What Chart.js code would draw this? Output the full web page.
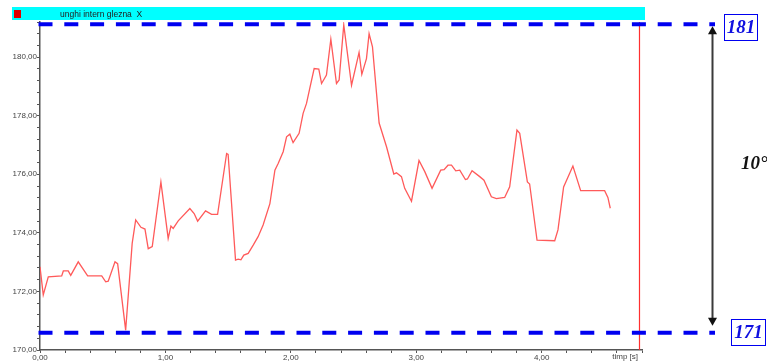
<!DOCTYPE html>
<html>
<head>
<meta charset="utf-8">
<script src="https://cdn.jsdelivr.net/npm/chart.js@4"></script>
<style>
  html,body{margin:0;padding:0;background:#fff;}
  #wrap{width:767px;height:362px;position:relative;}
</style>
</head>
<body>
<div id="wrap"><canvas id="c" width="767" height="362"></canvas></div>
<script>
// ---- data ----
const timeS = [0.000,0.026,0.066,0.173,0.186,0.225,0.245,0.305,0.380,0.492,0.524,0.544,0.598,0.619,0.683,0.735,0.763,0.805,0.837,0.863,0.895,0.964,1.022,1.044,1.062,1.102,1.195,1.229,1.257,1.320,1.368,1.416,1.488,1.500,1.559,1.580,1.602,1.625,1.660,1.700,1.739,1.779,1.833,1.873,1.899,1.939,1.966,1.992,2.018,2.066,2.098,2.125,2.151,2.186,2.223,2.245,2.284,2.319,2.364,2.385,2.422,2.484,2.544,2.566,2.603,2.624,2.651,2.704,2.763,2.821,2.842,2.882,2.908,2.962,3.022,3.068,3.126,3.195,3.222,3.253,3.281,3.315,3.347,3.392,3.408,3.445,3.506,3.540,3.599,3.639,3.705,3.745,3.803,3.825,3.886,3.904,3.963,4.104,4.130,4.175,4.249,4.311,4.502,4.528,4.547];
const angleDeg = [172.84,171.88,172.50,172.53,172.70,172.70,172.55,173.01,172.53,172.53,172.33,172.35,173.01,172.95,170.68,173.64,174.44,174.19,174.13,173.46,173.53,175.74,173.81,174.23,174.15,174.41,174.83,174.66,174.40,174.75,174.63,174.63,176.71,176.68,173.07,173.10,173.08,173.24,173.30,173.58,173.87,174.27,175.00,176.14,176.37,176.77,177.28,177.37,177.08,177.40,178.08,178.42,178.93,179.61,179.59,179.10,179.39,180.61,179.10,179.22,181.10,179.04,180.16,179.41,179.95,180.80,180.35,177.75,176.94,176.01,176.05,175.92,175.52,175.08,176.47,176.09,175.52,176.14,176.16,176.31,176.31,176.12,176.14,175.82,175.84,176.12,175.92,175.80,175.23,175.17,175.21,175.57,177.51,177.40,175.74,175.67,173.75,173.73,174.10,175.57,176.28,175.44,175.44,175.21,174.84];
const seriesName = 'unghi intern glezna  X';
const xAxisLabel = 'timp [s]';
const xRange = [0, 4.8];
const yRange = [170, 181.2];
const cursorTime = 4.78;
const refLines = [{value:181.12, label:'181'}, {value:170.59, label:'171'}];
const spanLabel = '10°';

const fmt = v => v.toFixed(2).replace('.', ',');
const isMult = (v, m) => Math.abs(v/m - Math.round(v/m)) < 1e-6;

const overlay = {
  id: 'overlay',
  afterDraw(chart) {
    const ctx = chart.ctx;
    const xs = chart.scales.x, ys = chart.scales.y;
    ctx.save();
    // title bar
    ctx.fillStyle = '#00ffff';
    ctx.fillRect(12, 7, 633, 13);
    ctx.fillStyle = '#e00000';
    ctx.fillRect(14, 10, 7, 8);
    ctx.fillStyle = '#222';
    ctx.font = '8.5px "Liberation Sans", Arial, sans-serif';
    ctx.textBaseline = 'middle';
    ctx.textAlign = 'left';
    ctx.fillText(seriesName, 60, 14.5);
    // x axis end label
    ctx.fillStyle = '#444';
    ctx.font = '8px "Liberation Sans", Arial, sans-serif';
    ctx.textAlign = 'right';
    ctx.textBaseline = 'top';
    ctx.fillText(xAxisLabel, 638, 353);
    // reference dashed lines
    ctx.strokeStyle = '#0000f0';
    ctx.lineWidth = 4;
    ctx.setLineDash([14, 11.8]);
    const py = [];
    refLines.forEach(r => {
      const y = ys.getPixelForValue(r.value);
      py.push(y);
      ctx.beginPath();
      ctx.moveTo(38.5, y);
      ctx.lineTo(715, y);
      ctx.stroke();
    });
    ctx.setLineDash([]);
    // double arrow
    const ax = 712.5;
    const yTop = py[0] + 2, yBot = py[1] - 7;
    ctx.strokeStyle = '#3a3a3a';
    ctx.fillStyle = '#111';
    ctx.lineWidth = 2;
    ctx.beginPath();
    ctx.moveTo(ax, yTop + 6); ctx.lineTo(ax, yBot - 6); ctx.stroke();
    ctx.beginPath();
    ctx.moveTo(ax, yTop); ctx.lineTo(ax - 4.5, yTop + 8); ctx.lineTo(ax + 4.5, yTop + 8); ctx.closePath(); ctx.fill();
    ctx.beginPath();
    ctx.moveTo(ax, yBot); ctx.lineTo(ax - 4.5, yBot - 8); ctx.lineTo(ax + 4.5, yBot - 8); ctx.closePath(); ctx.fill();
    // boxes with labels
    const boxes = [{x:724, y:14, w:34, h:27}, {x:731, y:319, w:35, h:27}];
    refLines.forEach((r, i) => {
      const b = boxes[i];
      ctx.fillStyle = '#fff';
      ctx.fillRect(b.x, b.y, b.w, b.h);
      ctx.strokeStyle = '#0000f0';
      ctx.lineWidth = 1;
      ctx.strokeRect(b.x + 0.5, b.y + 0.5, b.w - 1, b.h - 1);
      ctx.fillStyle = '#1010e0';
      ctx.font = 'italic bold 19px "Liberation Serif", "Times New Roman", serif';
      ctx.textAlign = 'center';
      ctx.textBaseline = 'middle';
      ctx.fillText(r.label, b.x + b.w / 2, b.y + b.h / 2 + 1);
    });
    ctx.fillStyle = '#111';
    ctx.font = 'italic bold 19px "Liberation Serif", "Times New Roman", serif';
    ctx.textAlign = 'left';
    ctx.textBaseline = 'middle';
    ctx.fillText(spanLabel, 741, 164);
    ctx.restore();
  }
};

new Chart(document.getElementById('c'), {
  type: 'line',
  data: {
    datasets: [
      {
        data: timeS.map((t, i) => ({x: t, y: angleDeg[i]})),
        borderColor: '#ff5a5a',
        borderWidth: 1.3,
        pointRadius: 0,
        tension: 0,
        fill: false
      },
      {
        data: [{x: cursorTime, y: yRange[0]}, {x: cursorTime, y: yRange[1]}],
        borderColor: '#ff3030',
        borderWidth: 1.2,
        pointRadius: 0,
        fill: false
      }
    ]
  },
  options: {
    responsive: false,
    animation: false,
    devicePixelRatio: 1,
    layout: {padding: {left: 0, right: 125, top: 22, bottom: 0}},
    plugins: {legend: {display: false}, tooltip: {enabled: false}, title: {display: false}},
    scales: {
      x: {
        type: 'linear',
        min: xRange[0], max: xRange[1],
        afterFit: s => { s.height = 12; },
        border: {display: true, color: '#555', width: 1.5},
        grid: {drawOnChartArea: false, drawTicks: true, tickLength: 3, tickColor: '#555'},
        ticks: {
          stepSize: 0.2, autoSkip: false, maxRotation: 0, padding: 0,
          color: '#444',
          font: {family: '"Liberation Sans", Arial, sans-serif', size: 8},
          callback: v => (isMult(v, 1) && v < 4.5) ? fmt(v) : ''
        }
      },
      y: {
        type: 'linear',
        min: yRange[0], max: yRange[1],
        afterFit: s => { s.width = 40; },
        border: {display: true, color: '#555', width: 1.5},
        grid: {drawOnChartArea: false, drawTicks: true, tickLength: 3, tickColor: '#555'},
        ticks: {
          stepSize: 0.4, autoSkip: false, padding: 0,
          color: '#444',
          font: {family: '"Liberation Sans", Arial, sans-serif', size: 8},
          callback: v => (isMult(v - 170, 2) && v < 180.5) ? fmt(v) : ''
        }
      }
    }
  },
  plugins: [overlay]
});
</script>
</body>
</html>
